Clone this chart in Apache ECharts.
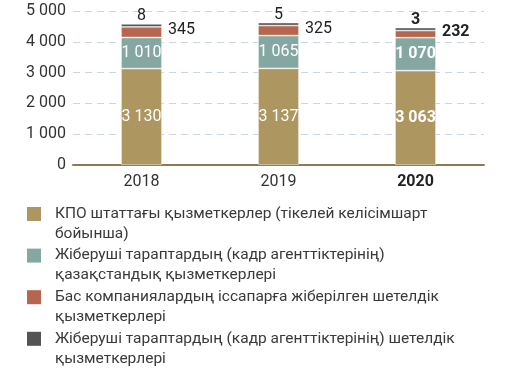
<!DOCTYPE html>
<html><head><meta charset="utf-8">
<script src="https://cdn.jsdelivr.net/npm/echarts@6/dist/echarts.min.js"></script>
<style>html,body{margin:0;padding:0;background:#fff}#c{width:512px;height:373px}</style>
</head><body><div id="c"></div>
<script>
const years = ['2018', '2019', '2020'];
const kpoStaff = [3130, 3137, 3063];
const kzContract = [1010, 1065, 1070];
const foreignParent = [345, 325, 232];
const foreignContract = [8, 5, 3];
const seriesNames = [
  'КПО штаттағы қызметкерлер (тікелей келісімшарт\nбойынша)',
  'Жіберуші тараптардың (кадр агенттіктерінің)\nқазақстандық қызметкерлері',
  'Бас компаниялардың іссапарға жіберілген шетелдік\nқызметкерлері',
  'Жіберуші тараптардың (кадр агенттіктерінің) шетелдік\nқызметкерлері'
];
const colors = ['#ad9660', '#84a8a1', '#b6654e', '#545454'];
const yMin = 0, yMax = 5000, yStep = 1000;
const boldYear = '2020';

const fmt = v => String(v).replace(/\B(?=(\d{3})+(?!\d))/g, ' ');
const FONT = 'Roboto';

function mkData(arr, labelBase) {
  return arr.map((v, i) => ({
    value: v,
    label: years[i] === boldYear ? Object.assign({}, labelBase, {fontWeight: 'bold'}) : labelBase
  }));
}

const insideLabel = {show: true, position: 'inside', color: '#fff', fontSize: 16, fontFamily: FONT, formatter: p => fmt(p.value)};
const rightLabel = {show: true, position: 'right', color: '#222', fontSize: 16, fontFamily: FONT, distance: 6, offset: [0, -2], formatter: p => fmt(p.value)};
const topLabel = {show: true, position: 'top', color: '#222', fontSize: 16, fontFamily: FONT, distance: 0, formatter: p => fmt(p.value)};

const seriesData = [kpoStaff, kzContract, foreignParent, foreignContract];
const labels = [insideLabel, insideLabel, rightLabel, topLabel];

// legend drawn as graphic so each multi-line item aligns its swatch with the first line
const legendGraphic = [];
seriesNames.forEach((name, k) => {
  const y0 = 207 + k * 41.6;
  legendGraphic.push({type: 'rect', left: 27, top: y0, shape: {width: 14, height: 14}, style: {fill: colors[k]}});
  legendGraphic.push({type: 'text', left: 55, top: y0 - 3, style: {text: name, fill: '#3a3a3a', font: '15.5px ' + FONT, lineHeight: 20}});
});

const chart = echarts.init(document.getElementById('c'), null, {renderer: 'canvas'});
chart.setOption({
  animation: false,
  color: colors,
  grid: {left: 73, right: 28, top: 11, bottom: 208, containLabel: false},
  graphic: legendGraphic,
  xAxis: {
    type: 'category', data: years,
    axisLine: {lineStyle: {color: '#8c7b4e', width: 2}},
    axisTick: {show: false},
    axisLabel: {
      fontFamily: FONT, fontSize: 16, color: '#333', margin: 9,
      formatter: v => v === boldYear ? '{b|' + v + '}' : v,
      rich: {b: {fontWeight: 'bold', fontSize: 16, fontFamily: FONT, color: '#222'}}
    }
  },
  yAxis: {
    type: 'value', min: yMin, max: yMax, interval: yStep,
    axisLine: {show: false}, axisTick: {show: false},
    axisLabel: {fontFamily: FONT, fontSize: 16, color: '#333', margin: 7, formatter: v => fmt(v)},
    splitLine: {lineStyle: {color: '#c9d5e8', type: [7, 5], width: 1}}
  },
  series: seriesData.map((arr, k) => ({
    name: seriesNames[k], type: 'bar', stack: 'total', barWidth: 41,
    barMinHeight: k === 3 ? 3 : 0,
    itemStyle: {borderColor: 'rgba(255,255,255,0.6)', borderWidth: 0.8},
    data: mkData(arr, labels[k])
  }))
});
</script></body></html>
